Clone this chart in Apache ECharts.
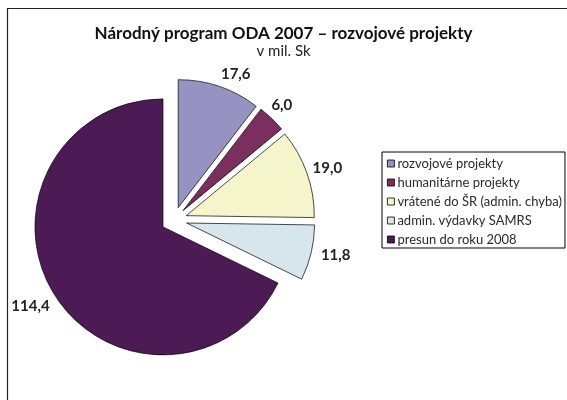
<!DOCTYPE html>
<html>
<head>
<meta charset="utf-8">
<script src="https://cdn.jsdelivr.net/npm/echarts@6/dist/echarts.min.js"></script>
<style>
  html, body { margin: 0; padding: 0; background: #fff; }
  #chart { width: 567px; height: 400px; }
</style>
</head>
<body>
<div id="chart"></div>
<script>
var categories = ['rozvojové projekty', 'humanitárne projekty', 'vrátené do ŠR (admin. chyba)', 'admin. výdavky SAMRS', 'presun do roku 2008'];
var values = [17.6, 6.0, 19.0, 11.8, 114.4];
var colors = ['#9693c3', '#7a2f5e', '#f5f5cb', '#d6e6ec', '#4c1a54'];

// small nudges so the value labels sit where Excel put them
var labelShift = [[-10, -5], [-15, -8], [-11, -2], [-7, 1], [11, 7]];

var chart = echarts.init(document.getElementById('chart'));

var data = categories.map(function (name, i) {
    return {
        name: name,
        value: values[i],
        selected: true,
        itemStyle: { color: colors[i] },
        select: { itemStyle: { color: colors[i], borderColor: '#000', borderWidth: 0.7 } }
    };
});

var option = {
    animation: false,
    textStyle: { fontFamily: 'Lato' },
    title: {
        text: 'Národný program ODA 2007 – rozvojové projekty',
        subtext: 'v mil. Sk',
        left: 'center',
        top: 20,
        itemGap: 2,
        textStyle: { fontFamily: 'Lato', fontSize: 17, fontWeight: 'bold', color: '#111' },
        subtextStyle: { fontFamily: 'Lato', fontSize: 15, color: '#222' }
    },
    legend: {
        orient: 'vertical',
        left: 382,
        top: 152,
        itemWidth: 7,
        itemHeight: 7,
        itemGap: 6,
        padding: [5, 3, 2, 5],
        borderColor: '#000',
        borderWidth: 1,
        icon: 'rect',
        selectedMode: false,
        itemStyle: { borderColor: '#000', borderWidth: 0.8 },
        textStyle: { fontFamily: 'Lato', fontSize: 13, lineHeight: 13, color: '#2a2a2a', padding: [0, 0, 0, -2] },
        data: categories
    },
    graphic: [{
        type: 'rect',
        shape: { x: 7.5, y: 8.5, width: 700, height: 500 },
        style: { fill: 'none', stroke: '#222', lineWidth: 1.2 },
        silent: true
    }],
    series: [{
        type: 'pie',
        center: [174, 220],
        radius: 128,
        startAngle: 90,
        clockwise: true,
        selectedMode: 'multiple',
        selectedOffset: 13,
        avoidLabelOverlap: false,
        emphasis: { disabled: true },
        itemStyle: { borderColor: '#000', borderWidth: 0.7 },
        label: {
            show: true,
            position: 'outside',
            fontFamily: 'Lato',
            fontSize: 15,
            fontWeight: 'bold',
            color: '#222',
            formatter: function (p) { return p.value.toFixed(1).replace('.', ','); }
        },
        labelLine: { show: false, length: 8, length2: 4 },
        labelLayout: function (p) {
            var s = labelShift[p.dataIndex];
            return { dx: s[0], dy: s[1] };
        },
        data: data
    }]
};

chart.setOption(option);
</script>
</body>
</html>
